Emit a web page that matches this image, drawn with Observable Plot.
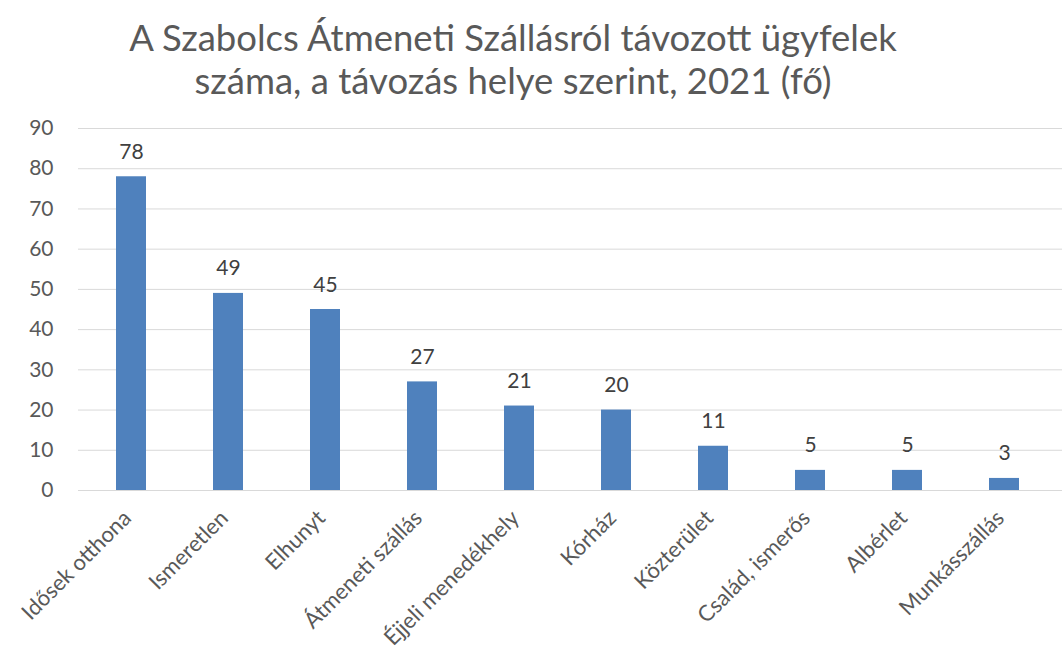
<!DOCTYPE html>
<html>
<head>
<meta charset="utf-8">
<script src="https://cdn.jsdelivr.net/npm/d3@7"></script>
<script src="https://cdn.jsdelivr.net/npm/@observablehq/plot@0.6"></script>
<style>
  body { margin: 0; background: #fff; font-family: Lato, "Open Sans", sans-serif; }
  #title { width: 1026px; text-align: center; color: #595959; font-size: 36.5px; line-height: 43px; padding-top: 16px; height: 94px; }
</style>
</head>
<body>
<div id="title">A Szabolcs Átmeneti Szállásról távozott ügyfelek<br>száma, a távozás helye szerint, 2021 (fő)</div>
<div id="chart"></div>
<script>
const categories = ["Idősek otthona", "Ismeretlen", "Elhunyt", "Átmeneti szállás", "Éjjeli menedékhely", "Kórház", "Közterület", "Család, ismerős", "Albérlet", "Munkásszállás"];
const values = [78, 49, 45, 27, 21, 20, 11, 5, 5, 3];
const yTicks = [0, 10, 20, 30, 40, 50, 60, 70, 80, 90];

const data = categories.map((c, i) => ({category: c, value: values[i]}));

const plot = Plot.plot({
  width: 1062,
  height: 551,
  marginTop: 18,
  marginBottom: 171,
  marginLeft: 78,
  marginRight: 0,
  style: { fontFamily: "Lato, 'Open Sans', sans-serif", fontSize: "20px", color: "#595959", background: "#fff" },
  x: { domain: categories, range: [79, 1057], paddingInner: 0.69, paddingOuter: 0.345, label: null },
  y: { domain: [0, 90], ticks: yTicks, label: null },
  marks: [
    Plot.gridY(yTicks, { stroke: "#d9d9d9", strokeOpacity: 1 }),
    Plot.barY(data, { x: "category", y: "value", fill: "#4f81bd" }),
    Plot.text(data, { x: "category", y: "value", text: d => String(d.value), dy: -18, lineAnchor: "bottom", fill: "#404040", fontSize: 21 }),
    Plot.axisY({ ticks: yTicks, tickSize: 0, tickPadding: 25, fontSize: 21, fill: "#595959" }),
    Plot.axisX({ tickSize: 0, tickRotate: -45, tickPadding: 24, dx: -4, fontSize: 22, fill: "#595959", textAnchor: "end" })
  ]
});
document.getElementById("chart").appendChild(plot);
</script>
</body>
</html>
